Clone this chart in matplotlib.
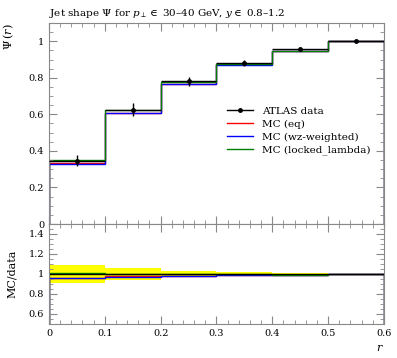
import numpy as np
import matplotlib
matplotlib.use("Agg")
import matplotlib.pyplot as plt
from matplotlib.ticker import MultipleLocator
from matplotlib.lines import Line2D

plt.rcParams['font.family'] = ['DejaVu Serif']
plt.rcParams['mathtext.fontset'] = 'dejavuserif'

# bin edges in r and the measured / simulated Psi(r)
edges = [0.0, 0.1, 0.2, 0.3, 0.4, 0.5, 0.6]
data = [0.345, 0.625, 0.780, 0.880, 0.955, 1.000]
data_err = [0.030, 0.035, 0.025, 0.016, 0.008, 0.002]
mc_eq = [0.332, 0.610, 0.768, 0.873, 0.948, 1.000]
mc_wz = [0.330, 0.607, 0.765, 0.872, 0.948, 1.000]
mc_locked = [0.350, 0.625, 0.778, 0.877, 0.947, 1.000]

edges = np.array(edges)
data = np.array(data)
data_err = np.array(data_err)
centers = 0.5 * (edges[:-1] + edges[1:])
halfw = 0.5 * np.diff(edges)

fig = plt.figure(figsize=(3.97, 3.58), dpi=100)
ax = fig.add_axes([0.1234, 0.3743, 0.8438, 0.5615])
rax = fig.add_axes([0.1234, 0.095, 0.8438, 0.2793], sharex=ax)

series = [(mc_eq, 'red', 'MC (eq)'),
          (mc_wz, 'blue', 'MC (wz-weighted)'),
          (mc_locked, 'green', 'MC (locked_lambda)')]

ax.errorbar(centers, data, xerr=halfw, yerr=data_err, fmt='o', color='black',
            ms=2.5, lw=1.0, capsize=0, zorder=5)
for vals, col, lab in series:
    ax.stairs(vals, edges, color=col, lw=1.0)

# ratio panel
rel = data_err / data
rax.stairs(1 + rel, edges, baseline=1 - rel, fill=True, color='#ffff00', lw=0)
rax.errorbar(centers, np.ones_like(data), xerr=halfw, fmt='none', color='black', lw=1.0)
for vals, col, lab in series:
    rax.stairs(np.array(vals) / data, edges, color=col, lw=1.0)

ax.set_xlim(0, 0.6)
ax.set_ylim(0, 1.1)
rax.set_ylim(0.5, 1.5)

for a in (ax, rax):
    a.xaxis.set_major_locator(MultipleLocator(0.1))
    a.xaxis.set_minor_locator(MultipleLocator(0.02))
    a.yaxis.set_minor_locator(MultipleLocator(0.05))
    a.tick_params(which='both', direction='in', top=True, right=True,
                  labelsize=7, color='#888888')
    a.tick_params(which='major', length=6)
    a.tick_params(which='minor', length=3)
    for s in a.spines.values():
        s.set_color('#888888')
ax.tick_params(labelbottom=False)
ax.set_yticks([0, 0.2, 0.4, 0.6, 0.8, 1.0], ['0', '0.2', '0.4', '0.6', '0.8', '1'])
rax.set_yticks([0.6, 0.8, 1.0, 1.2, 1.4], ['0.6', '0.8', '1', '1.2', '1.4'])
rax.set_xticks([0, 0.1, 0.2, 0.3, 0.4, 0.5, 0.6],
               ['0', '0.1', '0.2', '0.3', '0.4', '0.5', '0.6'])

ax.set_title(r'Jet shape $\Psi$ for $p_\perp \in$ 30–40 GeV, $y \in$ 0.8–1.2',
             loc='left', fontsize=7.5, pad=5)
ax.set_ylabel(r'$\Psi\,(r)$', fontsize=8, loc='top', va='center')
rax.set_ylabel('MC/data', fontsize=8, va='center')
rax.set_xlabel(r'$r$', fontsize=8, loc='right')
ax.yaxis.set_label_coords(-0.12, 1.0)
rax.yaxis.set_label_coords(-0.11, 0.5)

handles = [Line2D([], [], color='black', marker='o', ms=2.5, lw=1.0)]
handles += [Line2D([], [], color=col, lw=1.0) for _, col, _ in series]
labels = ['ATLAS data'] + [lab for _, _, lab in series]
ax.legend(handles, labels, loc='upper left', bbox_to_anchor=(0.52, 0.605),
          frameon=False, fontsize=7.5, handlelength=2.5, labelspacing=0.35,
          borderaxespad=0)

fig.savefig('out.png', dpi=100)
